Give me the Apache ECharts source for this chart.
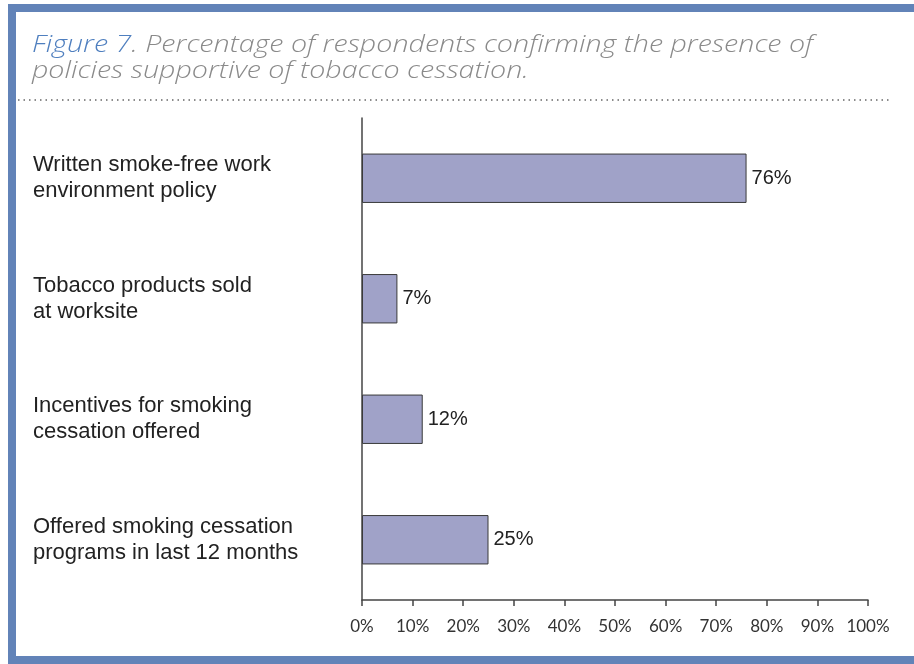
<!DOCTYPE html>
<html><head><meta charset="utf-8">
<script src="https://cdn.jsdelivr.net/npm/echarts@6/dist/echarts.min.js"></script>
<style>html,body{margin:0;padding:0;background:#fff}#c{width:914px;height:664px}</style>
</head><body><div id="c"></div>
<script>
const categories = [
  "Written smoke-free work\nenvironment policy",
  "Tobacco products sold\nat worksite",
  "Incentives for smoking\ncessation offered",
  "Offered smoking cessation\nprograms in last 12 months"
];
const values = [76, 7, 12, 25];
const tickValues = [0,10,20,30,40,50,60,70,80,90,100];
const titleLead = "Figure 7";
const titleLine1 = ". Percentage of respondents confirming the presence of";
const titleLine2 = "policies supportive of tobacco cessation.";

const chart = echarts.init(document.getElementById('c'));
const tFont = {fontFamily: 'Open Sans', fontStyle: 'italic', fontWeight: 300, fontSize: 23, lineHeight: 26};
chart.setOption({
  animation: false,
  backgroundColor: '#fff',
  graphic: [
    {type: 'rect', shape: {x: 8, y: 4, width: 906, height: 8}, style: {fill: '#6283b8'}, silent: true},
    {type: 'rect', shape: {x: 8, y: 4, width: 8, height: 660}, style: {fill: '#6283b8'}, silent: true},
    {type: 'rect', shape: {x: 8, y: 656, width: 906, height: 8}, style: {fill: '#6283b8'}, silent: true},
    {type: 'line', shape: {x1: 18, y1: 100, x2: 890, y2: 100}, style: {stroke: '#666', lineWidth: 1.5, lineDash: [1.5, 4]}, silent: true},
    {type: 'text', x: 32, y: 32, scaleX: 1.245, silent: true,
      style: {
        text: '{a|' + titleLead + '}{b|' + titleLine1 + '}\n{b|' + titleLine2 + '}',
        verticalAlign: 'top',
        rich: {
          a: Object.assign({fill: '#4f7fbf'}, tFont),
          b: Object.assign({fill: '#8a8a8a'}, tFont)
        }
      }
    }
  ],
  grid: {left: 362, right: 46, top: 118, bottom: 64},
  xAxis: {
    type: 'value', min: 0, max: 100, interval: 10,
    axisLine: {show: true, lineStyle: {color: '#444', width: 1.5}},
    axisTick: {show: true, length: 6, lineStyle: {color: '#444', width: 1.5}},
    axisLabel: {margin: 18, fontSize: 17, color: '#333', fontFamily: 'Lato',
      formatter: v => tickValues.includes(v) ? v + '%' : ''},
    splitLine: {show: false}
  },
  yAxis: {
    type: 'category', data: categories, inverse: true,
    axisLine: {show: true, lineStyle: {color: '#444', width: 1.5}},
    axisTick: {show: false},
    axisLabel: {align: 'left', margin: 329, fontSize: 22, lineHeight: 26, color: '#222', fontFamily: 'Liberation Sans'}
  },
  series: [{
    type: 'bar', data: values, barWidth: '41%',
    itemStyle: {color: '#a0a2c8', borderColor: '#3a3a3a', borderWidth: 1},
    label: {show: true, position: 'right', distance: 5, formatter: '{c}%', fontSize: 20, color: '#222', fontFamily: 'Liberation Sans'}
  }]
});
</script></body></html>
